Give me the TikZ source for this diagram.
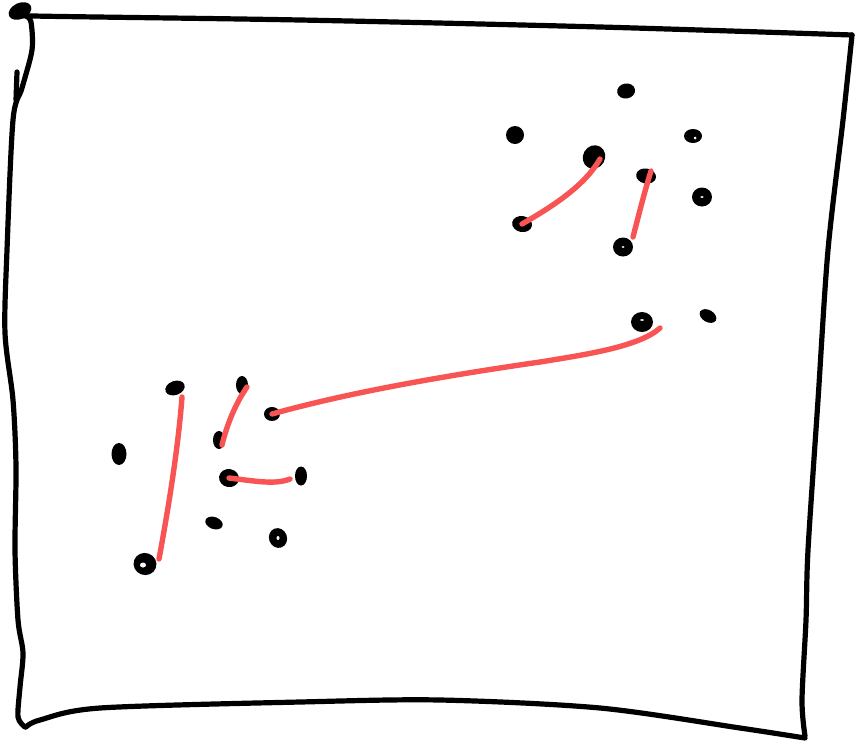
\documentclass[tikz,border=0pt]{standalone}
\usetikzlibrary{calc}
\begin{document}
\begin{tikzpicture}[x=1pt,y=-1pt]
\definecolor{sketchred}{RGB}{248,84,84}
\tikzset{
  frame/.style={line width=5.2pt,line cap=round,line join=round,black},
  link/.style={line width=5.4pt,line cap=round,sketchred},
  blob/.style={fill=black},
  hole/.style={fill=white}
}
\useasboundingbox (0,0) rectangle (856,742);
% frame
\fill[black,rotate around={25:(20,11)}] (20,11) ellipse (12pt and 8pt);
\draw[frame] plot[smooth,tension=0.5] coordinates {(24,14) (33,16) (300,20) (600,27) (852,35)};
\draw[frame] plot[smooth,tension=0.5] coordinates {(852,35) (843,120) (828,250) (818,400) (808,550) (806,620) (802,700) (805,736)};
\draw[frame] plot[smooth,tension=0.5] coordinates {(805,738) (740,728) (600,708) (440,700) (300,702) (100,708) (40,720) (26,727)};
\draw[frame] plot[smooth,tension=0.5] coordinates {(25,727) (18,717) (20,687) (23,653) (18,620) (15,550) (16,467) (13,400) (5,333) (7,250) (13,120) (22,88) (32,50) (31,22) (26,16)};
\draw[frame] (17,72) -- (16,100);
% dots, top right
\coordinate (t1) at (626,91);
\coordinate (t2) at (515,135);
\coordinate (t3) at (693,136);
\coordinate (t4) at (594,157);
\coordinate (t5) at (646,176);
\coordinate (t6) at (702,197);
\coordinate (t7) at (522,224);
\coordinate (t8) at (623,247);
\coordinate (t9) at (642,322);
\coordinate (t10) at (708,316);
\fill[blob,rotate around={10:(t1)}] (t1) ellipse (9pt and 7.5pt);
\fill[blob] (t2) ellipse (9pt and 9pt);
\fill[blob] (t3) ellipse (9pt and 7pt);
\fill[hole] ($(t3)+(2,2)$) ellipse (1.5pt and 1.5pt);
\fill[blob,rotate around={-30:(t4)}] (t4) ellipse (11pt and 12pt);
\fill[blob,rotate around={-10:(t5)}] (t5) ellipse (10pt and 7.5pt);
\fill[blob] (t6) ellipse (10pt and 9.5pt);
\fill[hole] (t6) ellipse (1.8pt and 1pt);
\fill[blob,rotate around={-10:(t7)}] (t7) ellipse (10pt and 8pt);
\fill[blob] (t8) ellipse (10pt and 9.5pt);
\fill[hole] (t8) ellipse (1.5pt and 1pt);
\fill[blob] (t9) ellipse (11pt and 10pt);
\fill[hole] ($(t9)+(0,-2)$) ellipse (2pt and 0.8pt);
\fill[blob,rotate around={-30:(t10)}] (t10) ellipse (9pt and 6pt);
% dots, bottom left
\coordinate (b1) at (175,388);
\coordinate (b2) at (242,385);
\coordinate (b3) at (272,414);
\coordinate (b4) at (119,454);
\coordinate (b5) at (219,440);
\coordinate (b6) at (229,478);
\coordinate (b7) at (301,476);
\coordinate (b8) at (214,523);
\coordinate (b9) at (278,538);
\coordinate (b10) at (145,564);
\fill[blob,rotate around={20:(b1)}] (b1) ellipse (10pt and 7pt);
\fill[blob] (b2) ellipse (6pt and 9pt);
\fill[blob] (b3) ellipse (8pt and 7pt);
\fill[blob] (b4) ellipse (7.5pt and 11pt);
\fill[blob] (b5) ellipse (6pt and 9pt);
\fill[blob,rotate around={-10:(b6)}] (b6) ellipse (10pt and 9pt);
\fill[blob] (b7) ellipse (6pt and 9.5pt);
\fill[blob,rotate around={-20:(b8)}] (b8) ellipse (9pt and 6pt);
\fill[blob,rotate around={20:(b9)}] (b9) ellipse (9pt and 10pt);
\fill[hole] (b9) ellipse (1.5pt and 2pt);
\fill[blob,rotate around={-20:(b10)}] (b10) ellipse (11.5pt and 11pt);
\fill[hole] ($(b10)+(-2,1)$) ellipse (3pt and 2.5pt);
% red links
\coordinate (t4e) at (600,159);
\coordinate (t5e) at (651,171);
\coordinate (t8e) at (633,237);
\coordinate (t9e) at (660,328);
\coordinate (b1e) at (182,397);
\coordinate (b10e) at (159,559);
\coordinate (b2e) at (247,387);
\coordinate (b5e) at (222,445);
\coordinate (b7e) at (290,479);
\draw[link] (t7) .. controls (555,205) and (585,185) .. (t4e);
\draw[link] (t8e) .. controls (640,210) and (645,190) .. (t5e);
\draw[link] (b1e) .. controls (178,450) and (168,510) .. (b10e);
\draw[link] (b5e) .. controls (228,420) and (238,400) .. (b2e);
\draw[link] (b6) .. controls (255,481) and (275,485) .. (b7e);
\draw[link] (b3) .. controls (350,392) and (450,375) .. (540,362) .. controls (590,354) and (640,346) .. (t9e);
\end{tikzpicture}
\end{document}
